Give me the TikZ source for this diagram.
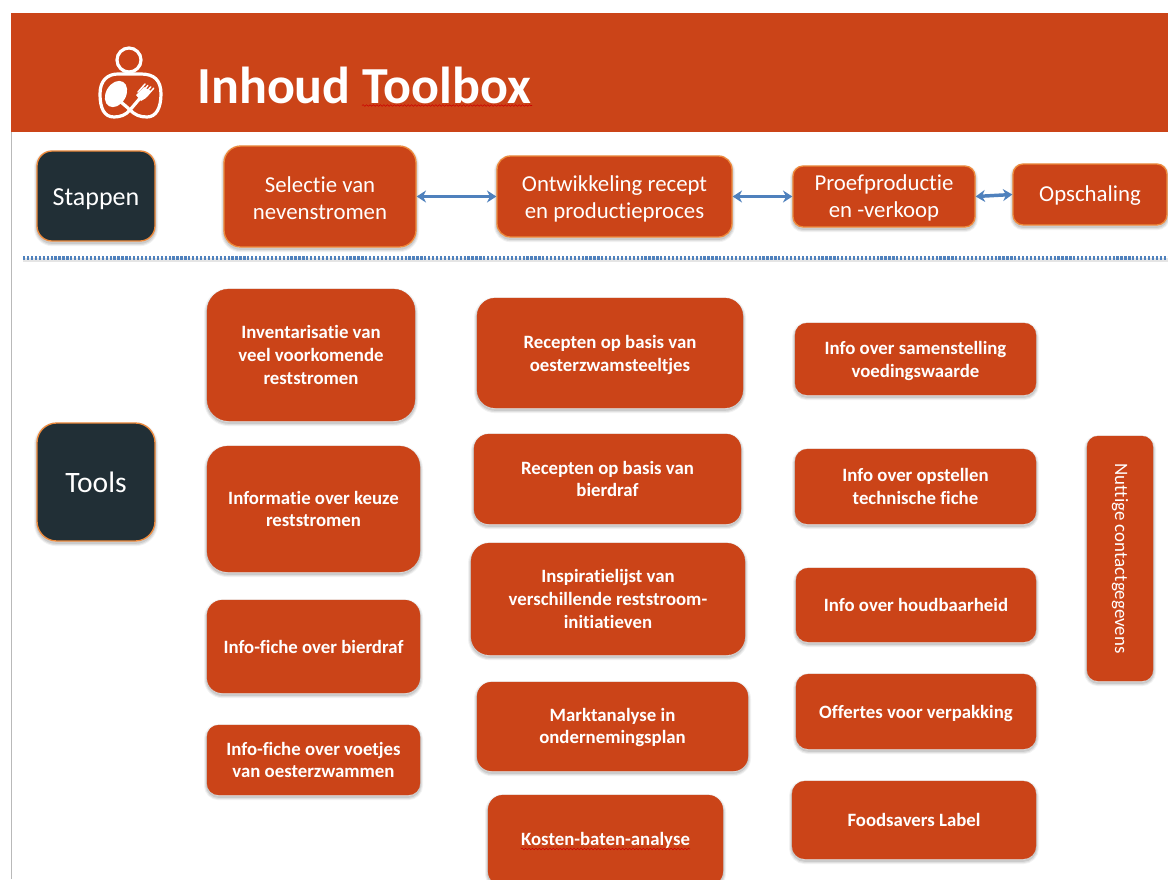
\documentclass[tikz,border=0pt]{standalone}
\usepackage{fontspec}
\setmainfont{Carlito}[Ligatures=NoCommon]
\usetikzlibrary{arrows.meta,decorations.pathmorphing}
\definecolor{rust}{HTML}{CB4418}
\definecolor{ink}{HTML}{212F36}
\definecolor{edgeor}{HTML}{EE8A3C}
\definecolor{flow}{HTML}{4F81BD}
\tikzset{
  softshadow/.style={
    preaction={draw=black,draw opacity=.05,fill=none,line width=4.5pt,transform canvas={yshift=-1.6pt}},
    preaction={draw=black,draw opacity=.07,fill=none,line width=3pt,transform canvas={yshift=-1.6pt}},
    preaction={draw=black,draw opacity=.09,fill=none,line width=1.5pt,transform canvas={yshift=-1.4pt}}},
  basebox/.style={inner sep=2pt,align=center,text=white},
  stepbox/.style={basebox,fill=rust,draw=edgeor,line width=1pt,softshadow,font=\fontsize{17.1}{20.2}\selectfont},
  labelbox/.style={basebox,fill=ink,draw=edgeor,line width=1pt,softshadow},
  toolbox/.style={basebox,fill=rust,draw=rust,line width=.2pt,softshadow,font=\fontsize{14.1}{17}\selectfont\bfseries},
  twoway/.style={{Stealth[length=7pt,width=9pt]}-{Stealth[length=7pt,width=9pt]},draw=flow,line width=2.6pt},
  squiggle/.style={draw=red!80!black,line width=.4pt,decorate,decoration={snake,amplitude=.6pt,segment length=2.6pt}},
  logo/.style={draw=white,line width=2.4pt,line cap=round,line join=round}
}
\newcommand{\pushdown}[1]{\rule{0pt}{#1}}
\newcommand{\bx}[7]{%
  \pgfmathsetmacro{\bw}{(#4-#2)*0.75}%
  \pgfmathsetmacro{\bh}{(#5-#3)*0.75}%
  \pgfmathsetmacro{\brad}{min(\bw,\bh)/6}%
  \pgfmathsetmacro{\cx}{(#2+#4)/2}%
  \pgfmathsetmacro{\cy}{(#3+#5)/2}%
  \node[#6,minimum width=\bw pt,minimum height=\bh pt,rounded corners=\brad pt] (#1) at (\cx,\cy) {#7};%
}
\begin{document}
\begin{tikzpicture}[x=0.75pt,y=-0.75pt]
\useasboundingbox (0,0) rectangle (1168,879);
\clip (0,0) rectangle (1168,879);
\fill[white] (0,0) rectangle (1168,879);
\draw[gray!55,line width=.6pt] (11,879) -- (11,13) -- (1168,13);
\fill[rust] (11,13) rectangle (1168,132);
% logo
\draw[logo] (129,60) circle (12);
\draw[logo] (141,97) -- (130,110) .. controls (126,115) and (120,117) .. (114,117)
  .. controls (104,117) and (100,108) .. (100,94)
  .. controls (100,80) and (108,74) .. (118,74) -- (141,74)
  .. controls (154,74) and (161,80) .. (161,94)
  .. controls (161,108) and (156,117) .. (147,117)
  .. controls (140,117) and (135,115) .. (130,110)
  .. controls (126,106) and (123,104) .. (121,102);
\fill[white,rotate around={-30:(116,94)}] (116,94) ellipse (10 and 14);
\fill[white] (136,95) -- (141,101) -- (146,98) -- (151,91) -- (144,87) -- cycle;
\foreach \k in {0,1,2,3}{\draw[white,line width=1.1pt,line cap=round] ({138+\k*2.9},{92+\k*1.4}) -- ({145+\k*2.9},{84+\k*1.4});}
% title
\node[inner sep=0pt,anchor=base west,text=white,font=\fontsize{39}{42}\selectfont\bfseries] (title) at (197,103) {Inhoud Toolbox};
\draw[squiggle] (362,105.5) -- (532,105.5);
% separator
\coordinate (sepL) at (23,258);
\coordinate (sepR) at (1168,258);
\draw[black,draw opacity=.1,line width=3pt,transform canvas={yshift=-1.4pt}] (sepL) -- (sepR);
\draw[flow,line width=2.5pt,dash pattern=on 1.7pt off 1.25pt] (sepL) -- (sepR);
% labels
\bx{stappen}{37}{151}{155}{241}{labelbox,font=\fontsize{19.5}{22}\selectfont}{\pushdown{18pt}Stappen}
\bx{tools}{37}{423}{155}{541}{labelbox,font=\fontsize{22.2}{26}\selectfont}{Tools}
% steps
\bx{s1}{224}{146}{416}{247}{stepbox}{\pushdown{14pt}Selectie van\\nevenstromen}
\bx{s2}{497}{156}{732}{237}{stepbox}{\pushdown{15.5pt}Ontwikkeling recept\\en productieproces}
\bx{s3}{793}{166}{975}{227}{stepbox}{\pushdown{14pt}Proefproductie\\en -verkoop}
\bx{s4}{1013}{164}{1167}{225}{stepbox}{\pushdown{14pt}Opschaling}
\draw[twoway] (s1.east) -- (s2.west);
\draw[twoway] (s2.east) -- (s3.west);
\draw[twoway] (s3.east) -- (s4.west);
% column 1
\bx{a1}{207}{289}{415}{421}{toolbox}{Inventarisatie van\\veel voorkomende\\reststromen}
\bx{a2}{207}{446}{420}{572}{toolbox}{Informatie over keuze\\reststromen}
\bx{a3}{207}{600}{420}{693}{toolbox}{Info-fiche over bierdraf}
\bx{a4}{207}{725}{420}{795}{toolbox}{Info-fiche over voetjes\\van oesterzwammen}
% column 2
\bx{b1}{477}{298}{743}{408}{toolbox}{\pushdown{12.5pt}Recepten op basis van\\oesterzwamsteeltjes}
\bx{b2}{474}{434}{741}{524}{toolbox}{Recepten op basis van\\bierdraf}
\bx{b3}{471}{543}{745}{655}{toolbox}{Inspiratielijst van\\verschillende reststroom-\\initiatieven}
\bx{b4}{477}{682}{748}{771}{toolbox}{\pushdown{11.5pt}Marktanalyse in\\ondernemingsplan}
\bx{b5}{488}{795}{723}{886}{toolbox}{Kosten-baten-analyse}
\draw[squiggle] (521,849) -- (690,849);
% column 3
\bx{c1}{795}{323}{1036}{395}{toolbox}{\pushdown{13pt}Info over samenstelling\\voedingswaarde}
\bx{c2}{795}{449}{1036}{524}{toolbox}{Info over opstellen\\technische fiche}
\bx{c3}{796}{568}{1036}{642}{toolbox}{Info over houdbaarheid}
\bx{c4}{796}{674}{1036}{749}{toolbox}{\pushdown{13pt}Offertes voor verpakking}
\bx{c5}{792}{781}{1036}{859}{toolbox}{Foodsavers Label}
% vertical
\bx{d1}{1087}{436}{1153}{681}{toolbox}{}
\node[inner sep=0pt,text=white,rotate=-90,font=\fontsize{14.2}{17}\selectfont] (d1t) at (d1.center) {Nuttige contactgegevens};
\end{tikzpicture}
\end{document}
